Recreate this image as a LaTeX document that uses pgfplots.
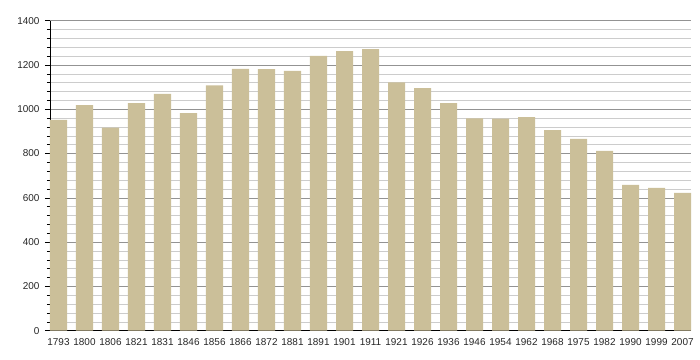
\documentclass[border=0pt]{standalone}
\usepackage{pgfplots}
\pgfplotsset{compat=1.18}
\usepackage{fontspec}
\setmainfont{Liberation Sans}
\definecolor{barc}{RGB}{203,191,153}
\begin{document}
\begin{tikzpicture}
\begin{axis}[
  at={(0,0)}, anchor=south west,
  width=641bp, height=310bp, scale only axis,
  xmin=-0.327, xmax=24.327,
  ymin=0, ymax=1400,
  axis x line*=bottom, axis y line*=left,
  axis line style={black, line width=0.8pt},
  xtick=data,
  xticklabels={1793,1800,1806,1821,1831,1846,1856,1866,1872,1881,1891,1901,1911,1921,1926,1936,1946,1954,1962,1968,1975,1982,1990,1999,2007},
  x tick style={draw=none},
  ytick={0,200,...,1400},
  minor ytick={40,80,120,160,240,280,320,360,440,480,520,560,640,680,720,760,840,880,920,960,1040,1080,1120,1160,1240,1280,1320,1360},
  ymajorgrids, yminorgrids,
  major grid style={gray!85, line width=0.6pt},
  minor grid style={gray!40, line width=0.6pt},
  y tick style={black, line width=0.6pt},
  tick align=outside,
  major tick length=5bp, minor tick length=3bp,
  tick label style={font=\fontsize{10}{12}\selectfont, text=black!85},
  /pgf/number format/assume math mode=true,
  /pgf/number format/1000 sep={},
  xticklabel style={yshift=1bp},
  yticklabel style={xshift=-2bp},
]
\addplot[ybar, bar width=0.654, fill=barc, draw=none, bar shift=0pt] coordinates {
(0,952) (1,1019) (2,917) (3,1028) (4,1069) (5,983) (6,1108) (7,1182)
(8,1181) (9,1173) (10,1241) (11,1263) (12,1272) (13,1122) (14,1096)
(15,1028) (16,959) (17,958) (18,965) (19,906) (20,866) (21,812)
(22,658) (23,645) (24,622)
};
\end{axis}
\path[use as bounding box] (-50bp,-29.3bp) rectangle (650bp,330.7bp);
\end{tikzpicture}
\end{document}
